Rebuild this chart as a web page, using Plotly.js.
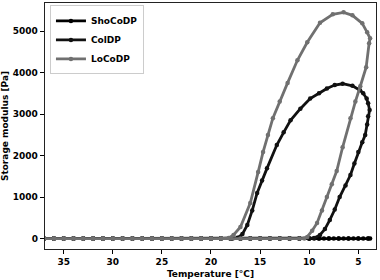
<!DOCTYPE html>
<html>
<head>
<meta charset="utf-8">
<script src="https://cdn.plot.ly/plotly-3.0.1.min.js"></script>
<style>html,body{margin:0;padding:0;background:#fff;}#chart{width:380px;height:280px;}</style>
</head>
<body>
<div id="chart"></div>
<script>
// ShoCoDP: flat at 0 during cooling and heating
var shoT = [37,36,35,34,33,32,31,30,29,28,27,26,25,24,23,22,21,20,19,18,17,16,15,14,13,12,11,10,9.5,9,8.5,8,7.5,7,6.5,6,5.5,5,4.5,4,3.8,
            4,5,6,7,8,9,10,11,12,13,14,15,16,17,18,19,20,21,22,23,24,25,26,27,28,29,30,31,32,33,34,35,36,37];
var shoG = [0,0,0,0,0,0,0,0,0,0,0,0,0,0,0,0,0,0,0,0,0,0,0,0,0,0,0,0,0,0,0,0,0,0,0,0,0,0,0,0,0,
            0,0,0,0,0,0,0,0,0,0,0,0,0,0,0,0,0,0,0,0,0,0,0,0,0,0,0,0,0,0,0,0,0,0];

// ColDP
var colT = [37,36,35,34,33,32,31,30,29,28,27,26,25,24,23,22,21,20,19,18,17,16,15,14,13,12,11,10,9.5,8.9,8.4,7.9,7.4,6.9,6.3,5.8,5.4,5.0,4.6,4.3,4.1,4.0,3.85,
            4.0,4.15,4.5,4.83,5.6,6.6,7.4,8.2,9.0,9.9,10.9,11.9,12.6,13.3,14.3,14.8,15.3,15.8,16.3,16.8,17.3,17.8,
            19,20,21,22,23,24,25,26,27,28,29,30,31,32,33,34,35,36,37];
var colG = [0,0,0,0,0,0,0,0,0,0,0,0,0,0,0,0,0,0,0,0,0,0,0,0,0,0,0,0,15,89,230,450,700,1002,1280,1531,1810,2084,2320,2493,2750,2950,3100,
            3260,3375,3500,3575,3680,3730,3700,3616,3500,3375,3130,2850,2560,2253,1692,1400,1100,680,330,110,20,0,
            0,0,0,0,0,0,0,0,0,0,0,0,0,0,0,0,0,0,0];

// LoCoDP
var loT = [37,36,35,34,33,32,31,30,29,28,27,26,25,24,23,22,21,20,19,18,17,16,15,14,13,12,11,10.5,10.2,9.7,9.2,8.7,8.2,7.7,7.2,6.6,5.8,5.3,4.8,4.2,3.9,3.8,
           4.1,4.6,5.6,6.5,7.6,8.9,10.2,11.2,12.2,13.0,13.7,14.2,14.7,15.2,16.0,17.0,17.7,18.2,
           19,20,21,22,23,24,25,26,27,28,29,30,31,32,33,34,35,36,37];
var loG = [0,0,0,0,0,0,0,0,0,0,0,0,0,0,0,0,0,0,0,0,0,0,0,0,0,0,0,0,41,190,377,680,1002,1310,1627,2200,2902,3300,3671,4128,4705,4825,
           4969,5185,5378,5450,5402,5200,4729,4296,3750,3300,2902,2493,2084,1603,858,281,89,17,
           0,0,0,0,0,0,0,0,0,0,0,0,0,0,0,0,0,0,0];

var xTicks = [35,30,25,20,15,10,5];
var yTicks = [0,1000,2000,3000,4000,5000];

function tr(name, x, y, color) {
  return {x: x, y: y, name: name, type: 'scatter', mode: 'lines+markers',
          line: {color: color, width: 2.8}, marker: {color: color, size: 4.5}};
}
var data = [tr('ShoCoDP', shoT, shoG, '#000000'),
            tr('ColDP', colT, colG, '#111111'),
            tr('LoCoDP', loT, loG, '#707070')];

var tf = {family: 'DejaVu Sans', size: 9, color: '#000', weight: 'bold'};
var layout = {
  width: 380, height: 280,
  margin: {l: 45, r: 4, t: 3, b: 31},
  paper_bgcolor: '#fff', plot_bgcolor: '#fff',
  showlegend: true,
  legend: {x: 0.015, y: 0.99, xanchor: 'left', yanchor: 'top', bgcolor: '#fff',
           bordercolor: '#cccccc', borderwidth: 1, font: tf, itemwidth: 30, tracegroupgap: 0},
  xaxis: {range: [36.9, 3.2], tickvals: xTicks, ticktext: xTicks.map(String),
          ticks: 'outside', ticklen: 4, tickwidth: 1, tickcolor: '#000',
          showline: true, mirror: true, linecolor: '#222', linewidth: 1.3,
          showgrid: false, zeroline: false, tickfont: tf,
          title: {text: 'Temperature [°C]', font: tf, standoff: 4}},
  yaxis: {range: [-250, 5675], tickvals: yTicks, ticktext: yTicks.map(String),
          ticks: 'outside', ticklen: 4, tickwidth: 1, tickcolor: '#000',
          showline: true, mirror: true, linecolor: '#222', linewidth: 1.3,
          showgrid: false, zeroline: false, tickfont: tf,
          title: {text: 'Storage modulus [Pa]', font: tf, standoff: 4}}
};
Plotly.newPlot('chart', data, layout, {displayModeBar: false, staticPlot: true});
</script>
</body>
</html>
